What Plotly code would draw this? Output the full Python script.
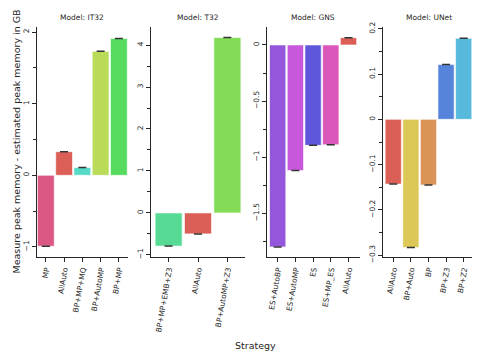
import plotly.graph_objects as go
from plotly.subplots import make_subplots

# data per model
models = ["IT32", "T32", "GNS", "UNet"]

it32_strategies = ["MP", "AllAuto", "BP+MP+MQ", "BP+AutoMP", "BP+MP"]
it32_values = [-0.99, 0.33, 0.11, 1.73, 1.91]

t32_strategies = ["BP+MP+EMB+Z3", "AllAuto", "BP+AutoMP+Z3"]
t32_values = [-0.79, -0.50, 4.18]

gns_strategies = ["ES+AutoBP", "ES+AutoMP", "ES", "ES+MP_ES", "AllAuto"]
gns_values = [-1.80, -1.12, -0.895, -0.89, 0.065]

unet_strategies = ["AllAuto", "BP+Auto", "BP", "BP+Z3", "BP+Z2"]
unet_values = [-0.143, -0.283, -0.145, 0.121, 0.179]

# seaborn hls palette over the sorted strategy names
COLORS = {
    "AllAuto": "#db5f57", "BP": "#db9457", "BP+Auto": "#dbc857",
    "BP+AutoMP": "#b9db57", "BP+AutoMP+Z3": "#84db57", "BP+MP": "#57db5f",
    "BP+MP+EMB+Z3": "#57db94", "BP+MP+MQ": "#57dbc8", "BP+Z2": "#57b9db",
    "BP+Z3": "#5784db", "ES": "#5f57db", "ES+AutoBP": "#9457db",
    "ES+AutoMP": "#c857db", "ES+MP_ES": "#db57b9", "MP": "#db5784",
}

# the page adds an 8px body margin, so the figure is drawn 8px smaller
PAD = 8
W, H = 480 - PAD, 360 - PAD
TOP, BOTTOM = 27 - PAD, 257 - PAD  # plot area in figure pixels
INK = "#262626"
FONT = "DejaVu Sans"


def px(x):
    return (x - PAD) / W


panels = [
    (it32_strategies, it32_values, (36.7, 128), [-0.5, 4.5], [-1.14, 2.07], 1, 0.5),
    (t32_strategies, t32_values, (151, 245), [-0.6, 2.6], [-1.05, 4.43], 1, 0.5),
    (gns_strategies, gns_values, (266.7, 360), [-0.62, 4.65], [-1.89, 0.16], 0.5, 0.25),
    (unet_strategies, unet_values, (382.7, 476), [-0.6, 4.7], [-0.304, 0.204], 0.1, 0.05),
]

fig = make_subplots(rows=1, cols=4)

for i, (cats, vals, (x0, x1), xr, yr, dt, mdt) in enumerate(panels, start=1):
    fig.add_trace(go.Bar(
        x=cats, y=vals,
        marker=dict(color=[COLORS[c] for c in cats],
                    line=dict(color="rgba(255,255,255,0.6)", width=1)),
        error_y=dict(type="data", array=[0] * len(vals), visible=True,
                     color="#333333", thickness=1.5, width=4),
        showlegend=False,
    ), row=1, col=i)
    xa = "xaxis" if i == 1 else f"xaxis{i}"
    ya = "yaxis" if i == 1 else f"yaxis{i}"
    fig.layout[xa].update(
        domain=[px(x0), px(x1)], range=xr, showline=True, linecolor=INK,
        linewidth=1.2, ticks="outside", ticklen=4, tickcolor=INK,
        tickangle=-80, tickfont=dict(size=7.5, color=INK, family=FONT),
        showgrid=False, zeroline=False, automargin=False,
    )
    fig.layout[ya].update(
        range=yr, dtick=dt, tick0=0, showline=True, linecolor=INK,
        linewidth=1.2, ticks="outside", ticklen=4, tickcolor=INK,
        tickangle=-90, tickfont=dict(size=7.5, color=INK, family=FONT),
        showgrid=False, zeroline=False, automargin=False,
        minor=dict(ticks="outside", dtick=mdt, tick0=0, ticklen=2.5,
                   tickcolor=INK, showgrid=False),
    )
    fig.add_annotation(
        text=f"Model: {models[i - 1]}", x=(px(x0) + px(x1)) / 2, y=1.015,
        xref="paper", yref="paper", xanchor="center", yanchor="bottom",
        showarrow=False, font=dict(size=7.5, color=INK, family=FONT),
    )

span = BOTTOM - TOP
fig.add_annotation(
    text="Measure peak memory - estimated peak memory in GB",
    x=0, y=(BOTTOM - (142 - PAD)) / span, xref="paper", yref="paper",
    xanchor="left", yanchor="middle", textangle=-90, showarrow=False,
    font=dict(size=9.5, color=INK, family=FONT),
)
fig.add_annotation(
    text="Strategy", x=px(255), y=-((345 - PAD) - BOTTOM) / span,
    xref="paper", yref="paper", xanchor="center", yanchor="middle",
    showarrow=False, font=dict(size=9.5, color=INK, family=FONT),
)

fig.update_layout(
    width=W, height=H, bargap=0.08,
    margin=dict(l=0, r=0, t=TOP, b=H - BOTTOM, autoexpand=False),
    paper_bgcolor="white", plot_bgcolor="white",
    font=dict(family=FONT, color=INK),
)

fig.write_html("out.html")
